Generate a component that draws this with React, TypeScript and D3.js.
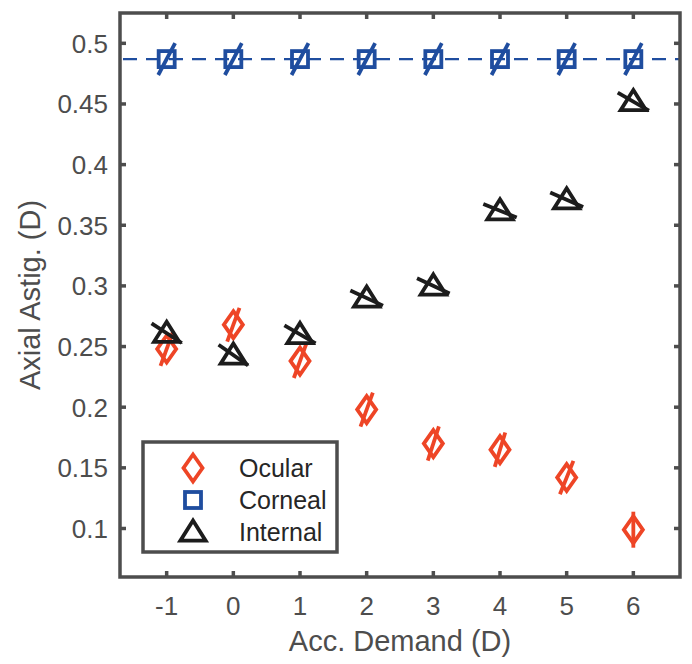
import React from "react";
import * as d3 from "d3";

const demands = [-1, 0, 1, 2, 3, 4, 5, 6];
const ocular = [0.248, 0.268, 0.238, 0.198, 0.17, 0.165, 0.142, 0.099];
const corneal = [0.487, 0.487, 0.487, 0.487, 0.487, 0.487, 0.487, 0.487];
const internal = [0.261, 0.243, 0.26, 0.29, 0.3, 0.362, 0.371, 0.452];
// axis orientation (deg from horizontal) drawn as a line through each marker
const ocularAxis = [70, 70, 70, 70, 72, 73, 68, 90];
const cornealAxis = [62, 62, 62, 62, 62, 62, 62, 62];
const internalAxis = [-33, -35, -30, -25, -25, -22, -24, -30];
const cornealMean = 0.487;
const yTicks = [0.1, 0.15, 0.2, 0.25, 0.3, 0.35, 0.4, 0.45, 0.5];
const legendLabels = ["Ocular", "Corneal", "Internal"];

const W = 692, H = 664;
const L = 120, R = 680, T = 13, B = 577;
const gray = "#4d4d4d";
const cOcular = "#ee4526";
const cCorneal = "#1f4d9f";
const cInternal = "#1c1c1c";
const font = "Liberation Sans, Arial, Helvetica, sans-serif";

function Marker({ type, x, y, color, sw = 3.8 }: any) {
  if (type === "d") {
    const w = 9.5, h = 13.5;
    return <path d={`M${x},${y - h}L${x + w},${y}L${x},${y + h}L${x - w},${y}Z`} fill="none" stroke={color} strokeWidth={sw} />;
  }
  if (type === "s") {
    const s = 8;
    return <rect x={x - s} y={y - s} width={2 * s} height={2 * s} fill="none" stroke={color} strokeWidth={sw} />;
  }
  const s = 11.5;
  return <path d={`M${x},${y - s}L${x + s * 1.1},${y + s * 0.75}L${x - s * 1.1},${y + s * 0.75}Z`} fill="none" stroke={color} strokeWidth={sw} strokeLinejoin="miter" />;
}

export default function App() {
  const x = d3.scaleLinear().domain([-1.7, 6.7]).range([L, R]);
  const y = d3.scaleLinear().domain([0.06, 0.525]).range([B, T]);
  const half = 18;

  const series = [
    { vals: ocular, ang: ocularAxis, type: "d", color: cOcular },
    { vals: corneal, ang: cornealAxis, type: "s", color: cCorneal },
    { vals: internal, ang: internalAxis, type: "t", color: cInternal },
  ];

  return (
    <svg width={W} height={H} style={{ display: "block", position: "absolute", left: 0, top: 0 }} fontFamily={font}>
      <rect width={W} height={H} fill="#fff" />
      {/* dashed mean line */}
      <line x1={L} x2={R} y1={y(cornealMean)} y2={y(cornealMean)} stroke={cCorneal} strokeWidth={2.2} strokeDasharray="14,9" strokeDashoffset={-3} />
      {series.map((s, si) => (
        <g key={si}>
          {s.vals.map((v, i) => {
            const cx = x(demands[i]), cy = y(v);
            const a = (s.ang[i] * Math.PI) / 180;
            const dx = Math.cos(a) * half, dy = Math.sin(a) * half;
            return (
              <g key={i}>
                <Marker type={s.type} x={cx} y={cy} color={s.color} />
                <line x1={cx - dx} y1={cy + dy} x2={cx + dx} y2={cy - dy} stroke={s.color} strokeWidth={3.8} />
              </g>
            );
          })}
        </g>
      ))}
      {/* frame */}
      <rect x={L} y={T} width={R - L} height={B - T} fill="none" stroke={gray} strokeWidth={3.5} />
      {/* ticks */}
      {demands.map((d) => (
        <g key={"x" + d}>
          <line x1={x(d)} x2={x(d)} y1={B} y2={B - 6} stroke={gray} strokeWidth={3.5} />
          <line x1={x(d)} x2={x(d)} y1={T} y2={T + 6} stroke={gray} strokeWidth={3.5} />
          <text x={x(d)} y={615} textAnchor="middle" fontSize={26} fill={gray}>{d}</text>
        </g>
      ))}
      {yTicks.map((t) => (
        <g key={"y" + t}>
          <line x1={L} x2={L + 6} y1={y(t)} y2={y(t)} stroke={gray} strokeWidth={3.5} />
          <line x1={R} x2={R - 6} y1={y(t)} y2={y(t)} stroke={gray} strokeWidth={3.5} />
          <text x={L - 12} y={y(t) + 9.5} textAnchor="end" fontSize={26} fill={gray}>{String(t)}</text>
        </g>
      ))}
      <text x={(L + R) / 2} y={651} textAnchor="middle" fontSize={29} fill={gray}>Acc. Demand (D)</text>
      <text transform={`translate(40,${(T + B) / 2}) rotate(-90)`} textAnchor="middle" fontSize={29} fill={gray}>Axial Astig. (D)</text>
      {/* legend */}
      <g>
        <rect x={143} y={442} width={194} height={110} fill="#fff" stroke={gray} strokeWidth={3.5} />
        {legendLabels.map((lab, i) => {
          const ly = 468 + i * 32;
          const s = series[i];
          return (
            <g key={lab}>
              <Marker type={s.type} x={193} y={ly} color={s.color} />
              <text x={239} y={ly + 9} fontSize={25} fill="#262626">{lab}</text>
            </g>
          );
        })}
      </g>
    </svg>
  );
}
